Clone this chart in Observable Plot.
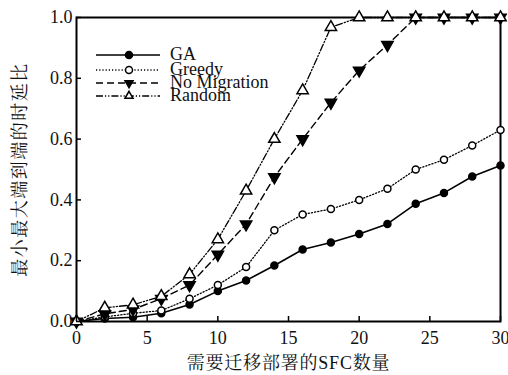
<!DOCTYPE html>
<html>
<head>
<meta charset="utf-8">
<script src="https://cdn.jsdelivr.net/npm/d3@7"></script>
<script src="https://cdn.jsdelivr.net/npm/@observablehq/plot@0.6"></script>
<style>
  body { margin: 0; background: #fff; }
  #wrap { position: relative; width: 508px; height: 375px; }
  #wrap svg { position: absolute; left: 0; top: 0; }
</style>
</head>
<body>
<div id="wrap"></div>
<script>
const xs = [0, 2, 4, 6, 8, 10, 12, 14, 16, 18, 20, 22, 24, 26, 28, 30];
const seriesNames = ["GA", "Greedy", "No Migration", "Random"];
const gaValues = [0, 0.01, 0.014, 0.027, 0.056, 0.10, 0.135, 0.184, 0.237, 0.26, 0.288, 0.321, 0.387, 0.423, 0.477, 0.513];
const greedyValues = [0, 0.015, 0.027, 0.036, 0.075, 0.12, 0.179, 0.30, 0.352, 0.37, 0.40, 0.437, 0.50, 0.532, 0.579, 0.63];
const noMigValues = [0, 0.025, 0.04, 0.075, 0.12, 0.22, 0.32, 0.475, 0.60, 0.72, 0.826, 0.91, 1, 1, 1, 1];
const randomValues = [0, 0.045, 0.055, 0.083, 0.155, 0.27, 0.43, 0.60, 0.76, 0.968, 1, 1, 1, 1, 1, 1];
const xTicks = [0, 5, 10, 15, 20, 25, 30];
const yTicks = [0, 0.2, 0.4, 0.6, 0.8, 1.0];
const xLabel = "需要迁移部署的SFC数量";
const yLabel = "最小最大端到端的时延比";

const valuesBySeries = [gaValues, greedyValues, noMigValues, randomValues];
const styles = {
  "GA": {dash: null, width: 1.6, symbol: "circle", fill: "black", r: 3.5, rotate: 0},
  "Greedy": {dash: "1.2,2", width: 1.3, symbol: "circle", fill: "white", r: 3.5, rotate: 0},
  "No Migration": {dash: "7,4", width: 1.4, symbol: "triangle", fill: "black", r: 4.2, rotate: 180},
  "Random": {dash: "7,2,1.2,2,1.2,2", width: 1.3, symbol: "triangle", fill: "white", r: 4.2, rotate: 0}
};
const latinFont = "'Liberation Serif', 'Times New Roman', serif";
const cjkFont = "'Liberation Serif', 'Noto Serif CJK SC', 'Noto Sans CJK SC', serif";

const data = [];
seriesNames.forEach((s, i) => xs.forEach((x, j) => data.push({series: s, x, y: valuesBySeries[i][j]})));

const marks = [];
for (const s of seriesNames) {
  const st = styles[s];
  marks.push(Plot.line(data.filter(d => d.series === s), {
    x: "x", y: "y", stroke: "black", strokeWidth: st.width,
    strokeDasharray: st.dash, clip: false
  }));
}
marks.push(Plot.frame({stroke: "black", strokeWidth: 2}));
for (const s of seriesNames) {
  const st = styles[s];
  marks.push(Plot.dot(data.filter(d => d.series === s), {
    x: "x", y: "y", symbol: st.symbol, r: st.r, fill: st.fill,
    stroke: "black", strokeWidth: 1.5, rotate: st.rotate
  }));
}
marks.push(Plot.axisX({ticks: xTicks, tickSize: 5, dy: -5, text: null, label: null, strokeWidth: 1.5}));
marks.push(Plot.axisY({ticks: yTicks, tickSize: 5, dx: 5, text: null, label: null, strokeWidth: 1.5}));
marks.push(Plot.axisX({ticks: xTicks, tickSize: 0, tickPadding: 10, label: null, fontSize: 18, fill: "#111"}));
marks.push(Plot.axisY({ticks: yTicks, tickSize: 0, tickPadding: 4, label: null, tickFormat: d3.format(".1f"), fontSize: 18, fill: "#111"}));
marks.push(Plot.text([xLabel], {text: d => d, frameAnchor: "bottom", textAnchor: "middle", lineAnchor: "middle", dy: 42, fontSize: 18, fill: "#111", className: "xlab"}));
marks.push(Plot.text([yLabel], {text: d => d, frameAnchor: "left", textAnchor: "middle", lineAnchor: "middle", dx: -56, rotate: -90, fontSize: 18, fill: "#111", className: "ylab"}));

const chart = Plot.plot({
  width: 508,
  height: 375,
  marginLeft: 76,
  marginRight: 8,
  marginTop: 17,
  marginBottom: 54,
  style: {background: "white", overflow: "visible"},
  x: {domain: [0, 30]},
  y: {domain: [0, 1]},
  marks
});
d3.select(chart).selectAll("text").style("font-family", latinFont);
d3.select(chart).selectAll(".xlab text").style("font-family", cjkFont).style("letter-spacing", "0.8px");
d3.select(chart).selectAll(".ylab text").style("font-family", cjkFont).style("letter-spacing", "1.5px");
document.getElementById("wrap").appendChild(chart);

const legend = d3.select("#wrap").append("svg")
  .attr("width", 508).attr("height", 375)
  .style("pointer-events", "none");
const rowY = [55, 70, 83, 96];
seriesNames.forEach((s, i) => {
  const st = styles[s];
  const g = legend.append("g").attr("transform", `translate(96,${rowY[i]})`);
  g.append("line").attr("x1", 0).attr("x2", 64).attr("y1", 0).attr("y2", 0)
    .attr("stroke", "black").attr("stroke-width", st.width)
    .attr("stroke-dasharray", st.dash);
  const sym = st.symbol === "circle" ? d3.symbolCircle : d3.symbolTriangle;
  const area = st.symbol === "circle" ? Math.PI * st.r * st.r : st.r * st.r * 1.6;
  g.append("path").attr("d", d3.symbol(sym, area)())
    .attr("transform", `translate(33,0) rotate(${st.rotate})`)
    .attr("fill", st.fill).attr("stroke", "black").attr("stroke-width", 1.5);
  g.append("text").attr("x", 74).attr("y", 1).attr("dominant-baseline", "middle")
    .style("font-family", latinFont)
    .attr("font-size", 18).attr("fill", "#111").text(s);
});
</script>
</body>
</html>
